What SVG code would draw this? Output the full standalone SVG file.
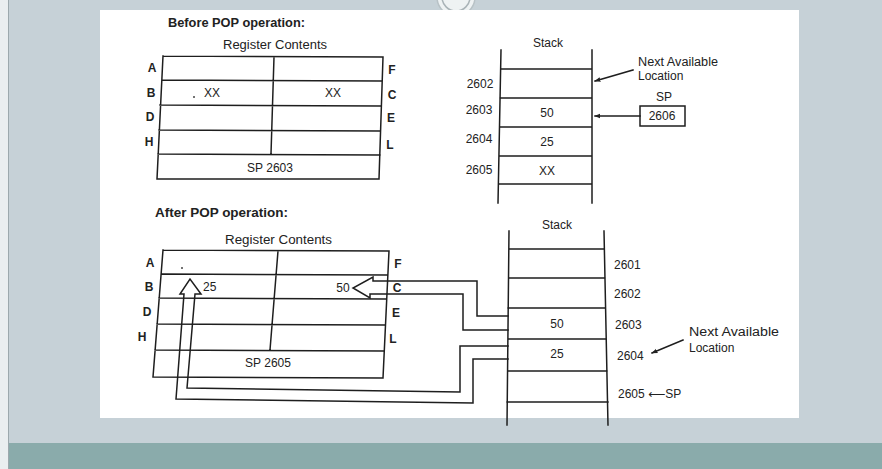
<svg xmlns="http://www.w3.org/2000/svg" width="882" height="469" viewBox="0 0 882 469">
<style>
.ln{stroke:#1e1e1e;stroke-width:1.5;fill:none;stroke-linecap:square}
.t{font-family:"Liberation Sans",Arial,sans-serif;fill:#222;font-size:12px}
.c{text-anchor:middle}
.b{font-weight:bold}
.lbl{font-family:"Liberation Sans",Arial,sans-serif;fill:#222;font-size:12px;font-weight:bold;text-anchor:middle}
</style>
<defs>
<marker id="ah" viewBox="0 0 10 10" refX="9" refY="5" markerWidth="6" markerHeight="6" orient="auto" markerUnits="userSpaceOnUse">
<path d="M0,1 L10,5 L0,9 Z" fill="#222"/>
</marker>
</defs>
<!-- background -->
<rect x="0" y="0" width="882" height="469" fill="#c6d1d7"/>
<rect x="0" y="0" width="8" height="469" fill="#eaeef0"/>
<line x1="8.5" y1="0" x2="8.5" y2="469" stroke="#9ca8ad" stroke-width="1"/>
<rect x="9" y="443" width="873" height="26" fill="#8aabab"/>
<circle cx="456" cy="-3" r="19" fill="#eef2f3" stroke="#b8c2c6" stroke-width="1.5"/>
<circle cx="456" cy="-3" r="14" fill="none" stroke="#a9b3b7" stroke-width="1.5"/>
<rect x="100" y="10" width="699" height="408" fill="#ffffff"/>

<!-- headings -->
<text class="t b" x="168" y="27" textLength="137" lengthAdjust="spacingAndGlyphs">Before POP operation:</text>
<text class="t b" x="155" y="217" textLength="133" lengthAdjust="spacingAndGlyphs">After POP operation:</text>

<!-- BEFORE: register contents -->
<g id="registers-before">
<text class="t" x="223" y="49" textLength="104" lengthAdjust="spacingAndGlyphs">Register Contents</text>
<path class="ln" d="M163,56 L383,57 M162,80 L382,81 M160,105 L381,106 M159,130 L380,131 M158,154 L380,155 M157,179 L379,179 M163,56 L157,179 M383,57 L379,179 M274,57 L271,154"/>
<text class="lbl" x="152" y="72">A</text>
<text class="lbl" x="151" y="97">B</text>
<text class="lbl" x="150" y="121">D</text>
<text class="lbl" x="149" y="146">H</text>
<text class="lbl" x="392" y="74">F</text>
<text class="lbl" x="392" y="99">C</text>
<text class="lbl" x="391" y="122">E</text>
<text class="lbl" x="390" y="149">L</text>
<circle cx="194" cy="97" r="1" fill="#444"/>
<text class="t c" x="212" y="97">XX</text>
<text class="t c" x="333" y="97">XX</text>
<text class="t c" x="270" y="172">SP 2603</text>
</g>

<!-- BEFORE: stack -->
<g id="stack-before">
<text class="t c" x="548" y="47">Stack</text>
<path class="ln" d="M501,50 L498,203 M592,50 L592,203 M501,69 L592,69 M500,98 L592,98 M500,127 L592,127 M499,156 L592,156 M499,184 L592,184"/>
<text class="t c" x="480" y="88" font-size="11">2602</text>
<text class="t c" x="479" y="114" font-size="11">2603</text>
<text class="t c" x="479" y="143" font-size="11">2604</text>
<text class="t c" x="479" y="174" font-size="11">2605</text>
<text class="t c" x="547" y="117">50</text>
<text class="t c" x="547" y="146">25</text>
<text class="t c" x="547" y="175">XX</text>
</g>
<g id="next-available-before">
<text class="t" x="638" y="66" textLength="80" lengthAdjust="spacingAndGlyphs">Next Available</text>
<text class="t" x="638" y="80">Location</text>
</g>
<g id="sp-before">
<text class="t c" x="664" y="101">SP</text>
<rect class="ln" x="640" y="106" width="45" height="20"/>
<text class="t c" x="662" y="120">2606</text>
</g>

<!-- AFTER: register contents -->
<g id="registers-after">
<text class="t" x="225" y="244" textLength="107" lengthAdjust="spacingAndGlyphs">Register Contents</text>
<path class="ln" d="M163,250 L389,251 M162,274 L387,275 M159,298 L386,299 M157,324 L385,325 M155,350 L384,351 M153,377 L383,378 M163,250 L153,377 M389,251 L383,378 M278,251 L270,350"/>
<text class="lbl" x="150" y="267">A</text>
<text class="lbl" x="149" y="291">B</text>
<text class="lbl" x="147" y="316">D</text>
<text class="lbl" x="142" y="341">H</text>
<text class="lbl" x="398" y="268">F</text>
<text class="lbl" x="397" y="292">C</text>
<text class="lbl" x="396" y="317">E</text>
<text class="lbl" x="393" y="343">L</text>
<circle cx="182" cy="268" r="1" fill="#444"/>
<text class="t" x="203" y="291">25</text>
<text class="t c" x="343" y="292">50</text>
<text class="t c" x="268" y="367">SP 2605</text>
</g>

<!-- AFTER: stack -->
<g id="stack-after">
<text class="t c" x="557" y="229">Stack</text>
<path class="ln" d="M509,231 L507,425 M604,231 L608,425 M509,249 L604,249 M509,278 L605,278 M508,308 L605,308 M508,339 L606,339 M508,371 L607,371 M507,402 L608,402"/>
<text class="t" x="614" y="269">2601</text>
<text class="t" x="614" y="298">2602</text>
<text class="t" x="615" y="329">2603</text>
<text class="t" x="617" y="360">2604</text>
<text class="t" x="618" y="398">2605 <tspan font-family="'DejaVu Sans',sans-serif" font-size="12">⟵</tspan>SP</text>
<text class="t c" x="557" y="328">50</text>
<text class="t c" x="557" y="358">25</text>
</g>
<g id="next-available-after">
<text class="t" x="689" y="336" font-size="13" textLength="90" lengthAdjust="spacingAndGlyphs">Next Available</text>
<text class="t" x="689" y="352" font-size="13">Location</text>
</g>

<!-- connectors -->
<g id="connectors">
<line class="ln" x1="633" y1="70" x2="595" y2="81" marker-end="url(#ah)"/>
<line class="ln" x1="640" y1="116" x2="595" y2="116" marker-end="url(#ah)"/>
<line class="ln" x1="683" y1="340" x2="652" y2="353" marker-end="url(#ah)"/>
<polyline class="ln" stroke-linejoin="miter" points="508,316 477,316 477,281 373,281 373,277 353,288 370,298 370,294 463,294 463,330 508,330"/>
<polyline class="ln" stroke-linejoin="miter" points="508,359 473,359 473,403 176,399 184,294 180,294 190,279 201,294 195,294 187,388 460,392 460,346 508,346"/>
</g>
</svg>
